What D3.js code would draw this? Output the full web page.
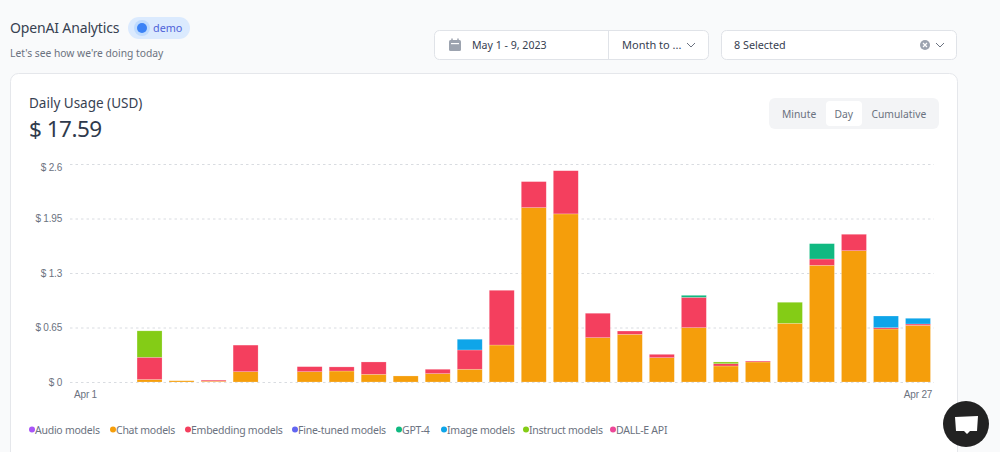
<!DOCTYPE html>
<html>
<head>
<meta charset="utf-8">
<script src="https://cdn.jsdelivr.net/npm/d3@7"></script>
<style>
  html, body { margin: 0; padding: 0; background: #f9fafb; overflow: hidden; }
  svg { display: block; font-family: "Noto Sans", sans-serif; }
  .grid line { stroke: #d9dce1; stroke-dasharray: 2.5 3; }
  .grid path, .xaxis path, .xaxis line, .yaxis path, .yaxis line { display: none; }
  .tick text { fill: #6b7280; font-size: 10px; letter-spacing: -0.2px; }
</style>
</head>
<body>
<svg id="chart" width="1000" height="452"></svg>
<script>
const days = d3.range(1, 28).map(d => "Apr " + d);
const xTicks = ["Apr 1", "Apr 27"];
const yTicks = [0, 0.65, 1.3, 1.95, 2.6];

const seriesNames = ["Audio models", "Chat models", "Embedding models", "Fine-tuned models", "GPT-4", "Image models", "Instruct models", "DALL-E API"];
const seriesColors = ["#a855f7", "#f59e0b", "#f43f5e", "#6366f1", "#10b981", "#0ea5e9", "#84cc16", "#ec4899"];

const audio     = new Array(27).fill(0);
const chat      = [0, 0, 0.03, 0.015, 0.01, 0.123, 0, 0.123, 0.131, 0.092, 0.072, 0.1, 0.152, 0.441, 2.08, 2.005, 0.529, 0.569, 0.29, 0.648, 0.191, 0.239, 0.7, 1.392, 1.566, 0.632, 0.676];
const embedding = [0, 0, 0.265, 0, 0.012, 0.317, 0, 0.06, 0.049, 0.147, 0, 0.052, 0.23, 0.653, 0.31, 0.515, 0.291, 0.039, 0.04, 0.362, 0.027, 0.011, 0, 0.075, 0.196, 0.016, 0.016];
const fineTuned = new Array(27).fill(0);
const gpt4      = [0, 0, 0, 0, 0, 0, 0, 0, 0, 0, 0, 0, 0, 0, 0, 0, 0, 0, 0, 0.024, 0, 0, 0, 0.183, 0, 0, 0];
const image     = [0, 0, 0, 0, 0, 0, 0, 0, 0, 0, 0, 0, 0.128, 0, 0, 0, 0, 0, 0, 0, 0, 0, 0, 0, 0, 0.139, 0.068];
const instruct  = [0, 0, 0.315, 0, 0, 0, 0, 0, 0, 0, 0, 0, 0, 0, 0, 0, 0, 0, 0, 0, 0.021, 0, 0.251, 0, 0, 0, 0];
const dalle     = new Array(27).fill(0);

const seriesValues = [audio, chat, embedding, fineTuned, gpt4, image, instruct, dalle];
const rows = days.map((day, i) => {
  const row = { day };
  seriesNames.forEach((name, s) => { row[name] = seriesValues[s][i]; });
  return row;
});

const legendX = [35, 116, 191, 298, 402, 447, 529, 616];

const svg = d3.select("#chart");

// page header
svg.append("text").attr("x", 10).attr("y", 33).attr("font-size", 14).attr("letter-spacing", -0.15).attr("fill", "#374151").text("OpenAI Analytics");
svg.append("rect").attr("x", 128).attr("y", 17).attr("width", 62).attr("height", 22).attr("rx", 11).attr("fill", "#dbeafe");
svg.append("circle").attr("cx", 142).attr("cy", 28).attr("r", 8).attr("fill", "#bfdbfe");
svg.append("circle").attr("cx", 142).attr("cy", 28).attr("r", 5).attr("fill", "#3b82f6");
svg.append("text").attr("x", 153).attr("y", 32).attr("font-size", 10.8).attr("fill", "#4f63d9").text("demo");
svg.append("text").attr("x", 10).attr("y", 57).attr("font-size", 10.3).attr("fill", "#6b7280").text("Let's see how we're doing today");

// date and filter boxes
function box(x, w) {
  svg.append("rect").attr("x", x + 0.5).attr("y", 30.5).attr("width", w).attr("height", 29).attr("rx", 5)
    .attr("fill", "#fff").attr("stroke", "#e0e3e8");
}
function chevron(x, y) {
  svg.append("path").attr("d", `M${x - 4},${y - 2}L${x},${y + 2}L${x + 4},${y - 2}`)
    .attr("fill", "none").attr("stroke", "#6b7280").attr("stroke-width", 1);
}
box(434, 274);
box(721, 235);
svg.append("line").attr("x1", 608.5).attr("x2", 608.5).attr("y1", 31).attr("y2", 60).attr("stroke", "#e0e3e8");
svg.append("rect").attr("x", 449).attr("y", 40).attr("width", 12).attr("height", 11).attr("rx", 1.5).attr("fill", "#9ca3af");
svg.append("path").attr("d", "M452,38.5V41M458,38.5V41").attr("stroke", "#9ca3af").attr("stroke-width", 1.5);
svg.append("rect").attr("x", 451).attr("y", 43).attr("width", 8).attr("height", 1.2).attr("fill", "#fff");
svg.append("text").attr("x", 472).attr("y", 49).attr("font-size", 10.6).attr("fill", "#374151").text("May 1 - 9, 2023");
svg.append("text").attr("x", 622).attr("y", 49).attr("font-size", 11).attr("fill", "#374151").text("Month to ...");
chevron(691, 45);
svg.append("text").attr("x", 734).attr("y", 49).attr("font-size", 10.8).attr("fill", "#374151").text("8 Selected");
svg.append("circle").attr("cx", 925).attr("cy", 45).attr("r", 5).attr("fill", "#9ca3af");
svg.append("path").attr("d", "M923,43L927,47M927,43L923,47").attr("stroke", "#fff").attr("stroke-width", 1.2);
chevron(940, 45);

// card
svg.append("rect").attr("x", 10.5).attr("y", 73.5).attr("width", 947).attr("height", 400).attr("rx", 8)
  .attr("fill", "#fff").attr("stroke", "#e5e7eb");
svg.append("text").attr("x", 29).attr("y", 108).attr("font-size", 13.5).attr("fill", "#374151").text("Daily Usage (USD)");
svg.append("text").attr("x", 29).attr("y", 137).attr("font-size", 22.5).attr("letter-spacing", -0.5).attr("fill", "#2f3a4c").text("$ 17.59");

// minute / day / cumulative switch
svg.append("rect").attr("x", 769).attr("y", 98).attr("width", 170).attr("height", 31).attr("rx", 6).attr("fill", "#f3f4f6");
svg.append("rect").attr("x", 826).attr("y", 101).attr("width", 36).attr("height", 25).attr("rx", 4).attr("fill", "#fff");
[["Minute", 782], ["Day", 834.5], ["Cumulative", 871.5]].forEach(([label, x]) => {
  svg.append("text").attr("x", x).attr("y", 118).attr("font-size", 10.3).attr("fill", "#6b7280").text(label);
});

// chart
const x = d3.scaleBand().domain(days).range([69.5, 934]).paddingInner(0.22).paddingOuter(0.11);
const y = d3.scaleLinear().domain([0, 2.6]).range([382, 164]);

svg.append("g").attr("class", "grid").attr("transform", "translate(70,0)")
  .call(d3.axisLeft(y).tickValues(yTicks).tickSize(-864).tickFormat(""));
const yAxis = svg.append("g").attr("class", "yaxis").attr("transform", "translate(70,0)")
  .call(d3.axisLeft(y).tickValues(yTicks).tickSize(0).tickPadding(8).tickFormat(d => "$ " + d));
// the top label sits lower than its gridline in the original
yAxis.selectAll(".tick text").filter(d => d === 2.6).attr("dy", "0.65em");
svg.append("g").attr("class", "xaxis").attr("transform", "translate(0,382)")
  .call(d3.axisBottom(x).tickValues(xTicks).tickSize(0).tickPadding(9));

const stacked = d3.stack().keys(seriesNames)(rows);
const layers = svg.append("g").selectAll("g").data(stacked).enter().append("g")
  .attr("fill", (d, i) => seriesColors[i]);
layers.selectAll("rect").data(d => d.filter(p => p[1] > p[0])).enter().append("rect")
  .attr("x", d => x(d.data.day))
  .attr("width", x.bandwidth())
  .attr("y", d => y(d[1]))
  .attr("height", d => y(d[0]) - y(d[1]))
  .attr("stroke", "#fff")
  .attr("stroke-opacity", 0.35)
  .attr("stroke-width", 0.6);

// legend
const legend = svg.append("g").selectAll("g").data(seriesNames).enter().append("g")
  .attr("transform", (d, i) => `translate(${legendX[i]},433.5)`);
legend.append("circle").attr("cx", -3).attr("cy", -4).attr("r", 3).attr("fill", (d, i) => seriesColors[i]);
legend.append("text").attr("font-size", 10.5).attr("letter-spacing", -0.25).attr("fill", "#6b7280").text(d => d);

// chat button
svg.append("circle").attr("cx", 966).attr("cy", 424).attr("r", 23).attr("fill", "#222");
svg.append("path").attr("d", "M955,417L978,416L977,431L970,431L967,434L964,431L956,431Z").attr("fill", "#fff");
</script>
</body>
</html>
